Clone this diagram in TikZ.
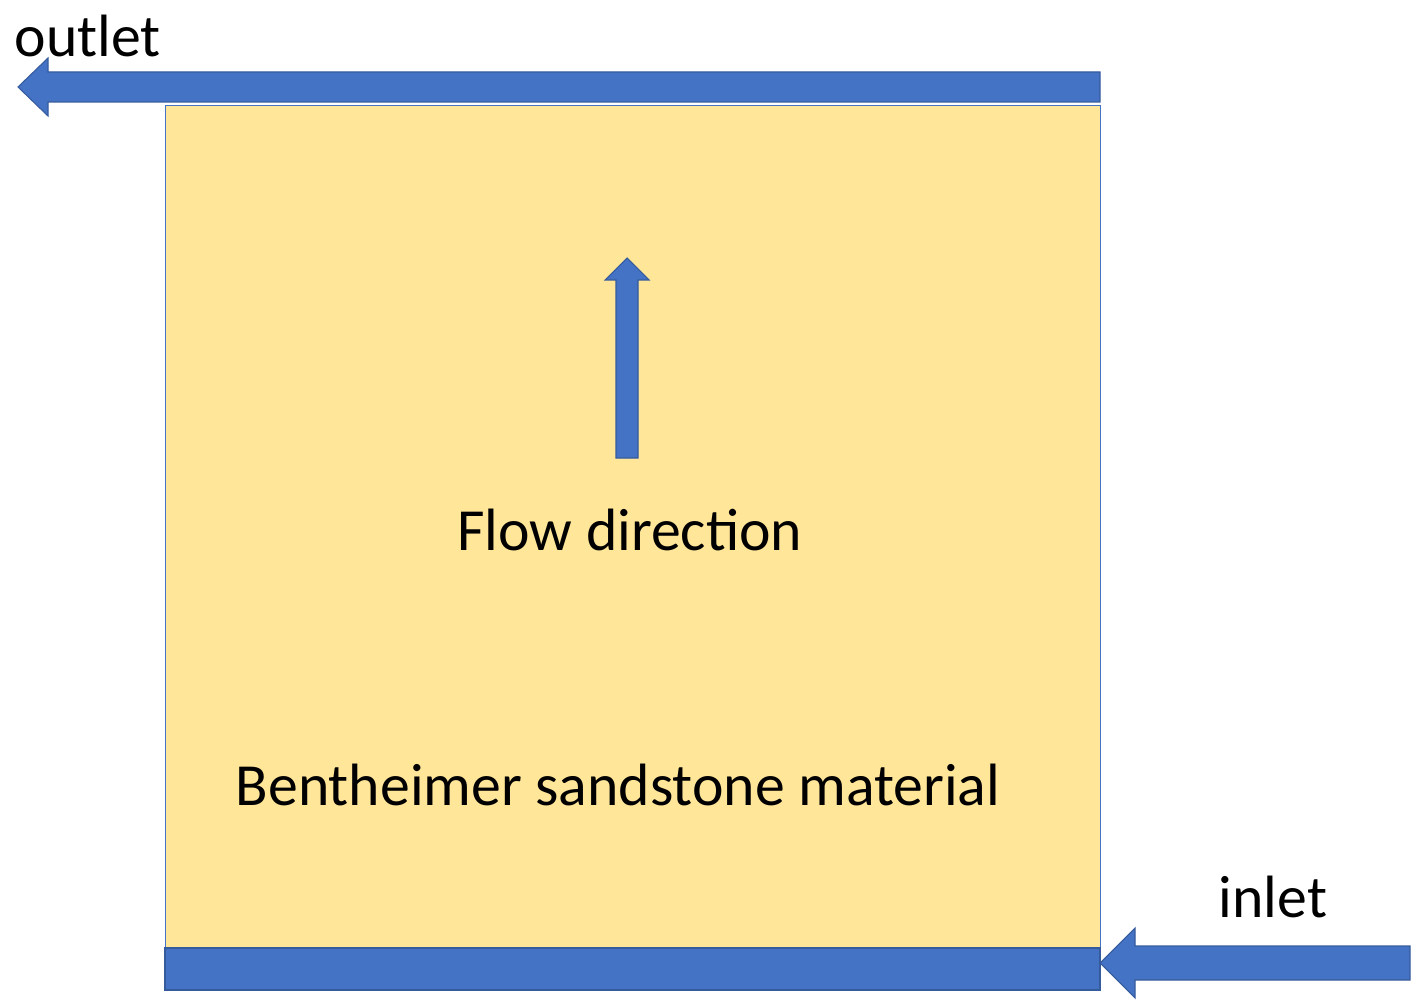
\documentclass[tikz,border=0pt]{standalone}
\usepackage{fontspec}
\setmainfont{Carlito}
\begin{document}
\begin{tikzpicture}[x=0.02cm,y=-0.02cm,
  blk/.style={fill=blu,draw=blu!80!black,line width=0.6pt},
  lbl/.style={font=\fontsize{34}{40}\selectfont,inner sep=0pt}]
\definecolor{blu}{HTML}{4472C4}
\definecolor{sand}{HTML}{FFE699}
\useasboundingbox (0,0) rectangle (1422,1006);
\node[draw=blu,fill=sand,line width=0.8pt,minimum width=935*0.02cm,minimum height=842*0.02cm,anchor=north west,inner sep=0pt] (box) at (165,105) {};
% top outlet arrow
\draw[blk] (1100,72) -- (48,72) -- (48,58) -- (18,87) -- (48,116) -- (48,102) -- (1100,102) -- cycle;
% bottom bar
\draw[blk] (165,948) rectangle (1100,990);
% inlet arrow
\draw[blk] (1410,946) -- (1135,946) -- (1135,928) -- (1100,963) -- (1135,998) -- (1135,980) -- (1410,980) -- cycle;
% flow arrow
\draw[blk] (616,458) -- (616,280) -- (605,280) -- (627,258) -- (649,280) -- (638,280) -- (638,458) -- cycle;
\node[lbl] (out) at (88,36) {outlet};
\node[lbl] (in) at (1273,897) {inlet};
\node[lbl] (flow) at (630,530) {Flow direction};
\node[lbl] (mat) at (618,785) {Bentheimer sandstone material};
\end{tikzpicture}
\end{document}
